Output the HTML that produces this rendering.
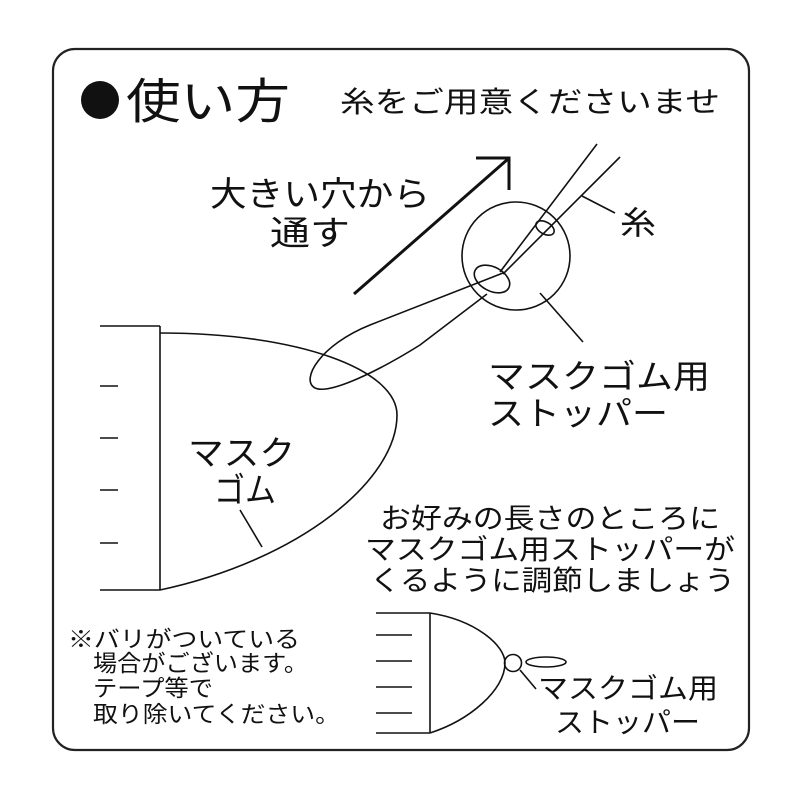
<!DOCTYPE html>
<html><head><meta charset="utf-8"><style>
html,body{margin:0;padding:0;background:#fff;}
svg{display:block;}
text{font-family:"Liberation Sans","Noto Sans CJK JP",sans-serif;fill:#111;}
</style></head><body>
<svg width="800" height="800" viewBox="0 0 800 800" xmlns="http://www.w3.org/2000/svg">
<rect x="53" y="49" width="696" height="701" rx="22" fill="none" stroke="#222" stroke-width="2.2"/>
<circle cx="100" cy="100" r="19" fill="#111"/>
<text x="126" y="118" font-size="48" textLength="164" lengthAdjust="spacingAndGlyphs">使い方</text>
<text x="340" y="112" font-size="29" textLength="380" lengthAdjust="spacingAndGlyphs">糸をご用意くださいませ</text>

<g fill="none" stroke="#111" stroke-width="3">
<line x1="354" y1="294" x2="508" y2="159"/>
<polyline points="476,158 509,158 509,190"/>
</g>
<text x="210" y="206" font-size="34" textLength="220" lengthAdjust="spacingAndGlyphs">大きい穴から</text>
<text x="270" y="245" font-size="34" textLength="80" lengthAdjust="spacingAndGlyphs">通す</text>

<g fill="none" stroke="#111" stroke-width="1.6">
<circle cx="516" cy="256" r="54"/>
<ellipse cx="545" cy="228" rx="10" ry="6" transform="rotate(30 545 228)"/>
<ellipse cx="492" cy="279" rx="19" ry="12" transform="rotate(28 492 279)"/>
<line x1="500" y1="272" x2="597" y2="144"/>
<line x1="503" y1="274" x2="620" y2="157"/>
<path d="M503,273 L370,325 C320,345 300,380 315,388 C330,395 380,370 420,345 L487,294"/>
<line x1="582" y1="196" x2="615" y2="213"/>
<line x1="540" y1="293" x2="583" y2="342"/>
<line x1="100" y1="326" x2="160" y2="326"/>
<line x1="160" y1="326" x2="160" y2="590"/>
<line x1="100" y1="590" x2="160" y2="590"/>
<line x1="100" y1="386" x2="118" y2="386"/>
<line x1="100" y1="438" x2="118" y2="438"/>
<line x1="100" y1="490" x2="118" y2="490"/>
<line x1="100" y1="543" x2="118" y2="543"/>
<path d="M160,333 C300,333 397,370 397,415 C397,480 300,560 160,590"/>
<line x1="240" y1="510" x2="262" y2="547"/>
<line x1="376" y1="613" x2="430" y2="613"/>
<line x1="376" y1="733" x2="430" y2="733"/>
<line x1="430" y1="613" x2="430" y2="733"/>
<line x1="376" y1="635" x2="412" y2="635"/>
<line x1="376" y1="661" x2="412" y2="661"/>
<line x1="376" y1="687" x2="412" y2="687"/>
<line x1="376" y1="713" x2="412" y2="713"/>
<path d="M430,613 C475,620 505,645 505,663 C505,690 470,720 430,733"/>
<circle cx="513" cy="663" r="8.5"/>
<ellipse cx="546" cy="662" rx="20" ry="5"/>
<line x1="520" y1="670" x2="536" y2="689"/>
</g>
<text x="620" y="234" font-size="32" textLength="36" lengthAdjust="spacingAndGlyphs">糸</text>
<text x="488" y="388" font-size="33" textLength="222" lengthAdjust="spacingAndGlyphs">マスクゴム用</text>
<text x="488" y="425" font-size="33" textLength="180" lengthAdjust="spacingAndGlyphs">ストッパー</text>
<text x="188" y="465" font-size="34" textLength="107" lengthAdjust="spacingAndGlyphs">マスク</text>
<text x="214" y="502" font-size="34" textLength="62" lengthAdjust="spacingAndGlyphs">ゴム</text>
<text x="380" y="528" font-size="28" textLength="340" lengthAdjust="spacingAndGlyphs">お好みの長さのところに</text>
<text x="365" y="559" font-size="28" textLength="370" lengthAdjust="spacingAndGlyphs">マスクゴム用ストッパーが</text>
<text x="370" y="590" font-size="28" textLength="365" lengthAdjust="spacingAndGlyphs">くるように調節しましょう</text>
<text x="538" y="698" font-size="28" textLength="180" lengthAdjust="spacingAndGlyphs">マスクゴム用</text>
<text x="555" y="732" font-size="28" textLength="145" lengthAdjust="spacingAndGlyphs">ストッパー</text>
<text x="68" y="647" font-size="23" textLength="232" lengthAdjust="spacingAndGlyphs">※バリがついている</text>
<text x="93" y="671" font-size="23" textLength="215" lengthAdjust="spacingAndGlyphs">場合がございます。</text>
<text x="93" y="696" font-size="23" textLength="120" lengthAdjust="spacingAndGlyphs">テープ等で</text>
<text x="93" y="722" font-size="23" textLength="247" lengthAdjust="spacingAndGlyphs">取り除いてください。</text>
</svg>
</body></html>
